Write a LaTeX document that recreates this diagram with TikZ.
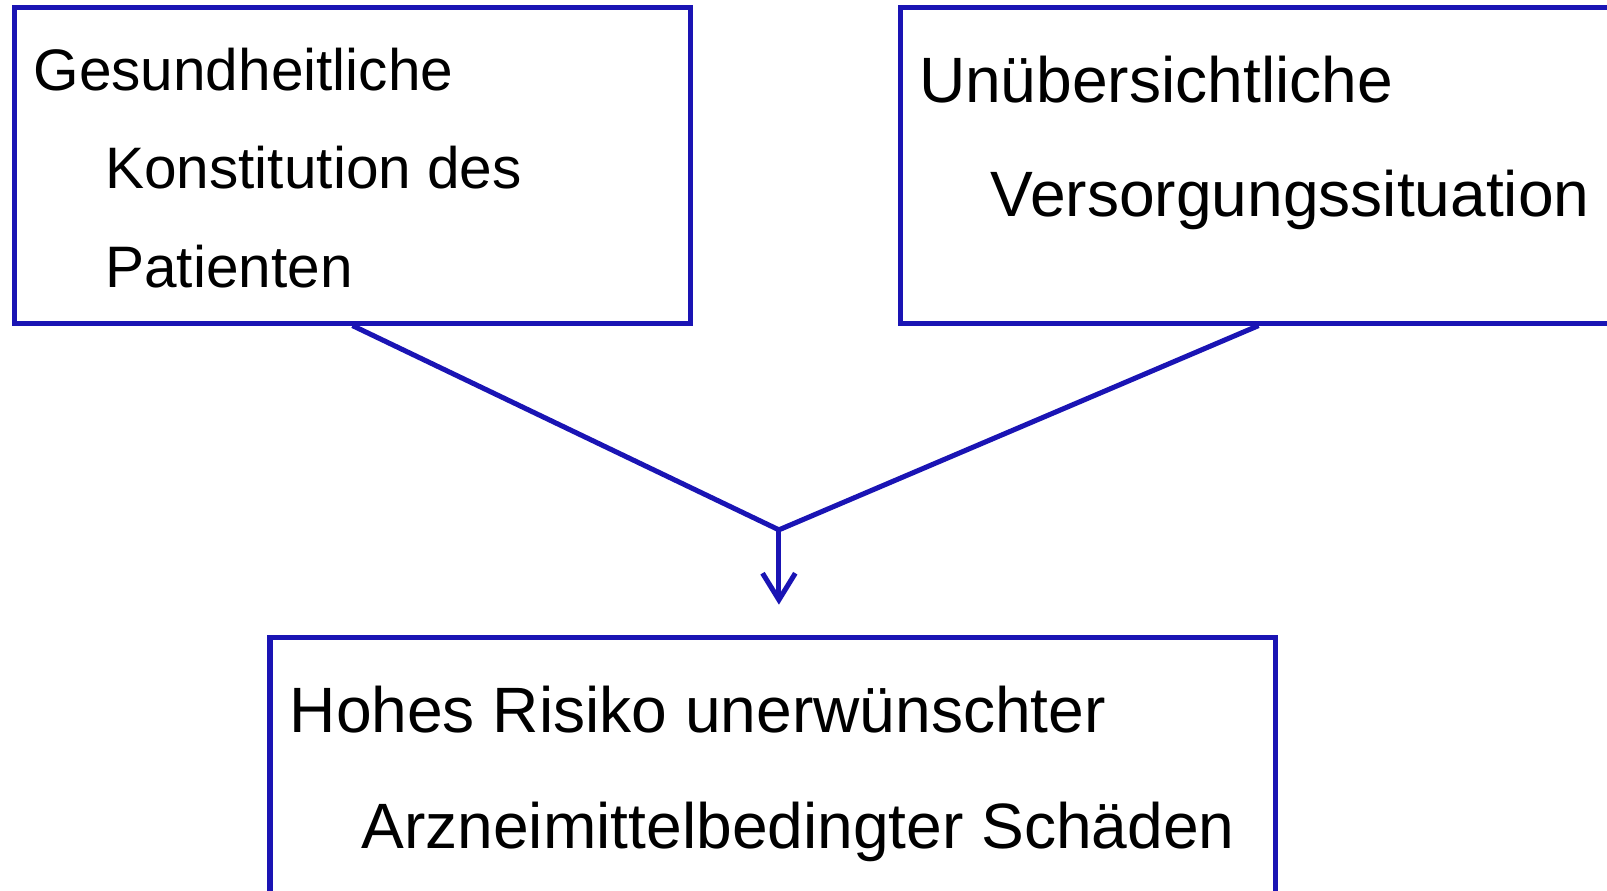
\documentclass[tikz,border=0pt]{standalone}
\usepackage{fontspec}
\setmainfont{Liberation Sans}
\usetikzlibrary{arrows.meta}

\definecolor{boxblue}{RGB}{26,20,180}

\tikzset{
  box/.style={draw=boxblue, line width=1.4pt, inner sep=0pt, anchor=north west},
  line/.style={draw=boxblue, line width=1.4pt},
  txt/.style={inner sep=0pt, anchor=base west},
  small/.style={font=\fontsize{16.25}{19}\selectfont},
  big/.style={font=\fontsize{17.8}{21}\selectfont},
}

\begin{document}
\begin{tikzpicture}
\useasboundingbox (0, 0) rectangle (15.68, 8.684);

\pgfmathsetmacro\topY{8.636};
\pgfmathsetmacro\boxH{3.08};
\pgfmathsetmacro\indent{0.70};

% boxes
\node [box, minimum width=6.59cm, minimum height=\boxH cm]
  (health) at (0.12, \topY) {};
\node [box, minimum width=7.74cm, minimum height=\boxH cm]
  (supply) at (8.76, \topY) {};
\node [box, minimum width=9.81cm, minimum height=3.18cm]
  (risk) at (2.61, 2.484) {};

% texts
\node [txt, small] (h1) at (0.32, 7.804) {Gesundheitliche};
\node [txt, small] (h2) at (0.32+\indent, 6.844) {Konstitution des};
\node [txt, small] (h3) at (0.32+\indent, 5.874) {Patienten};

\node [txt, big] (s1) at (8.96, 7.684) {Unübersichtliche};
\node [txt, big] (s2) at (8.96+\indent, 6.574) {Versorgungssituation};

\node [txt, big] (r1) at (2.82, 1.534) {Hohes Risiko unerwünschter};
\node [txt, big] (r2) at (2.82+\indent, 0.404) {Arzneimittelbedingter Schäden};

% connectors
\coordinate (supplyfoot) at ([xshift=3.52cm]supply.south west);
\coordinate (join) at (7.60, 3.514);
\coordinate (tip) at (7.60, 2.784);

\draw [line] (health.south) -- (join);
\draw [line] (supplyfoot) -- (join);
\draw [line, -{Straight Barb[length=2.6mm, width=3.2mm]}] (join) -- (tip);

\end{tikzpicture}
\end{document}
